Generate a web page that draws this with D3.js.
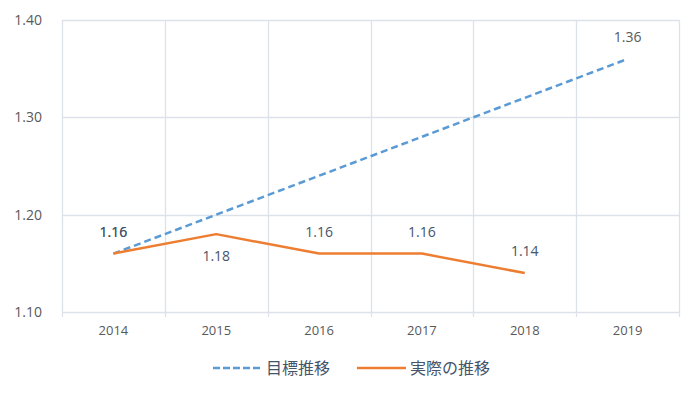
<!DOCTYPE html>
<html>
<head>
<meta charset="utf-8">
<script src="https://cdn.jsdelivr.net/npm/d3@7"></script>
<style>
  body { margin: 0; background: #fff; }
  text { font-family: "Open Sans", "Noto Sans CJK JP", sans-serif; }
</style>
</head>
<body>
<div id="chart"></div>
<script>
// Data
const years = ["2014", "2015", "2016", "2017", "2018", "2019"];
const targetValues = [1.16, 1.20, 1.24, 1.28, 1.32, 1.36];
const actualValues = [1.16, 1.18, 1.16, 1.16, 1.14];
const yTicks = [1.10, 1.20, 1.30, 1.40];
const seriesNames = ["目標推移", "実際の推移"];

const width = 700, height = 394;
const margin = { top: 20, right: 21, bottom: 82, left: 62 };
const innerW = width - margin.left - margin.right;
const innerH = height - margin.top - margin.bottom;

const svg = d3.select("#chart")
    .append("svg")
    .attr("width", width)
    .attr("height", height);

const g = svg.append("g")
    .attr("transform", `translate(${margin.left},${margin.top})`);

const x = d3.scaleBand()
    .domain(years)
    .range([0, innerW]);

const y = d3.scaleLinear()
    .domain([1.10, 1.40])
    .range([innerH, 0]);

const gridColor = "#dde2ea";

// Horizontal gridlines
g.selectAll(".hgrid")
    .data(yTicks)
    .enter()
    .append("line")
    .attr("x1", 0)
    .attr("x2", innerW)
    .attr("y1", d => Math.round(y(d)) + 0.5)
    .attr("y2", d => Math.round(y(d)) + 0.5)
    .attr("stroke", gridColor)
    .attr("stroke-width", 1.3);

// Vertical gridlines at category boundaries (with small ticks below)
const bounds = years.map(d => x(d)).concat([innerW]);
g.selectAll(".vgrid")
    .data(bounds)
    .enter()
    .append("line")
    .attr("x1", d => Math.round(d) + 0.5)
    .attr("x2", d => Math.round(d) + 0.5)
    .attr("y1", 0)
    .attr("y2", innerH + 5)
    .attr("stroke", gridColor)
    .attr("stroke-width", 1.3);

// Y axis labels
g.selectAll(".ylab")
    .data(yTicks)
    .enter()
    .append("text")
    .attr("x", -20)
    .attr("y", d => y(d))
    .attr("dy", "0.35em")
    .attr("text-anchor", "end")
    .attr("font-size", 14)
    .attr("fill", "#595959")
    .text(d => d.toFixed(2));

// X axis labels
g.selectAll(".xlab")
    .data(years)
    .enter()
    .append("text")
    .attr("x", d => x(d) + x.bandwidth() / 2)
    .attr("y", innerH + 23)
    .attr("text-anchor", "middle")
    .attr("font-size", 13)
    .attr("fill", "#595959")
    .text(d => d);

const cx = (d, i) => x(years[i]) + x.bandwidth() / 2;

// Target line (dashed)
const targetLine = d3.line()
    .x((d, i) => cx(d, i))
    .y(d => y(d));

g.append("path")
    .datum(targetValues)
    .attr("fill", "none")
    .attr("stroke", "#5b9bd5")
    .attr("stroke-width", 2.5)
    .attr("stroke-dasharray", "7,4")
    .attr("d", targetLine);

// Actual line
g.append("path")
    .datum(actualValues)
    .attr("fill", "none")
    .attr("stroke", "#ed7d31")
    .attr("stroke-width", 2.5)
    .attr("stroke-linejoin", "round")
    .attr("d", targetLine);

// Data labels: target (first and last only)
const targetLabels = [0, targetValues.length - 1];
targetLabels.forEach(i => {
    g.append("text")
        .attr("x", cx(targetValues[i], i))
        .attr("y", y(targetValues[i]) - 17)
        .attr("text-anchor", "middle")
        .attr("font-size", 14)
        .attr("fill", "#595959")
        .text(targetValues[i].toFixed(2));
});

// Data labels: actual (above, except 2015 below)
actualValues.forEach((v, i) => {
    const below = i === 1;
    g.append("text")
        .attr("x", cx(v, i))
        .attr("y", below ? y(v) + 27 : y(v) - 17)
        .attr("text-anchor", "middle")
        .attr("font-size", 14)
        .attr("fill", "#44546a")
        .text(v.toFixed(2));
});

// Legend
const legend = svg.append("g")
    .attr("transform", `translate(213, 368)`);

legend.append("line")
    .attr("x1", 0).attr("x2", 49)
    .attr("y1", 0).attr("y2", 0)
    .attr("stroke", "#5b9bd5")
    .attr("stroke-width", 2.5)
    .attr("stroke-dasharray", "7,3");

legend.append("text")
    .attr("x", 53)
    .attr("y", 0)
    .attr("dy", "0.35em")
    .attr("font-size", 16)
    .attr("fill", "#44546a")
    .style("font-family", "'Noto Sans CJK JP', sans-serif")
    .text(seriesNames[0]);

legend.append("line")
    .attr("x1", 144).attr("x2", 193)
    .attr("y1", 0).attr("y2", 0)
    .attr("stroke", "#ed7d31")
    .attr("stroke-width", 2.5);

legend.append("text")
    .attr("x", 197)
    .attr("y", 0)
    .attr("dy", "0.35em")
    .attr("font-size", 16)
    .attr("fill", "#44546a")
    .style("font-family", "'Noto Sans CJK JP', sans-serif")
    .text(seriesNames[1]);
</script>
</body>
</html>
